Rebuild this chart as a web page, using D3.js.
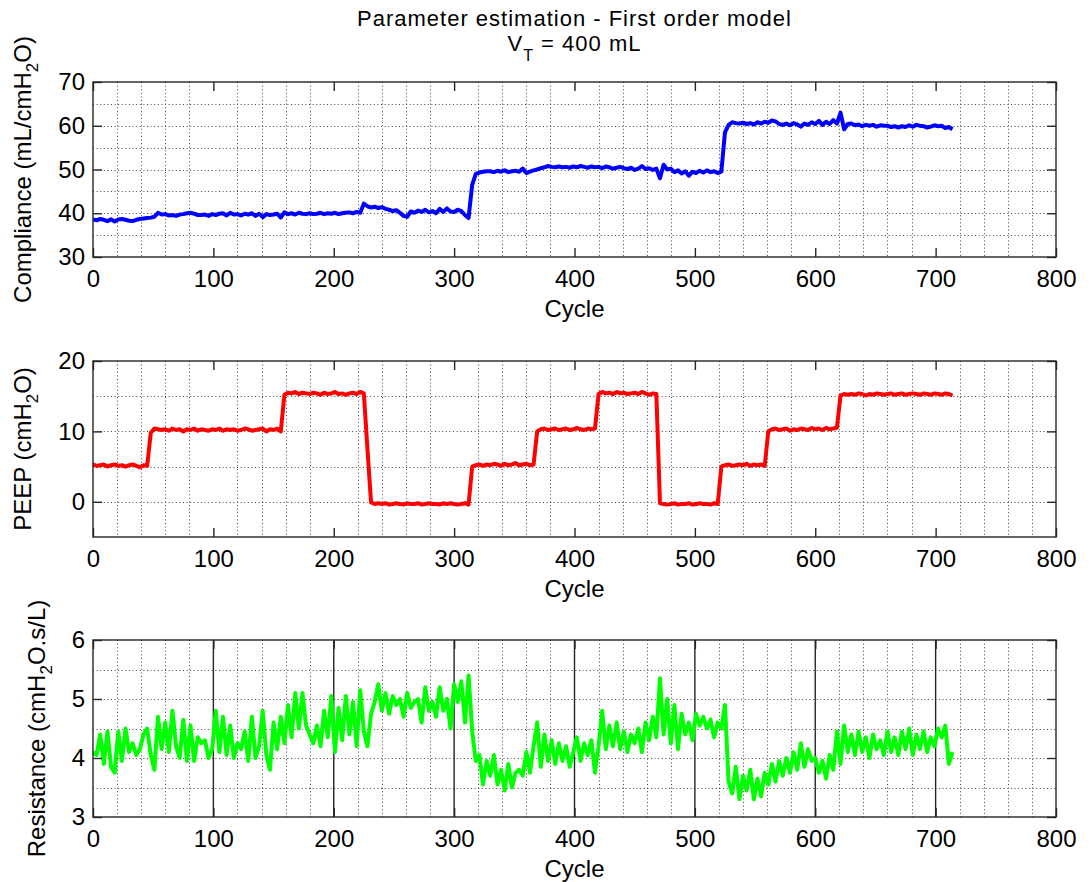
<!DOCTYPE html>
<html>
<head>
<meta charset="utf-8">
<script src="https://d3js.org/d3.v7.min.js"></script>
<style>
    body { margin: 0; background: #fff; }
    svg text { font-family: "Liberation Sans", Arial, sans-serif; fill: #000; }
</style>
</head>
<body>
<div class="container"></div>
<script>
// one value every 3 cycles
const sampleStep = 3;

const complianceValues = [
    38.6, 38.4, 38.7, 38.5, 38.2, 38.6, 38.1, 38.6, 38.7, 38.5,
    38.3, 38.2, 38.5, 38.7, 38.8, 38.9, 39.0, 39.2, 40.1, 39.7,
    39.8, 39.5, 39.6, 39.4, 39.7, 39.8, 40.0, 40.1, 39.9, 39.6,
    39.6, 39.7, 39.4, 39.8, 39.6, 39.9, 40.0, 39.5, 40.1, 39.7,
    39.8, 39.5, 39.9, 39.7, 40.0, 39.4, 39.9, 39.1, 39.8, 39.6,
    39.7, 39.9, 39.0, 40.2, 39.8, 40.0, 39.7, 40.1, 39.9, 39.8,
    40.0, 39.8, 39.9, 40.1, 39.8, 40.0, 39.9, 40.1, 39.8, 40.0,
    40.1, 40.2, 40.0, 40.3, 40.1, 42.2, 41.6, 41.3, 41.5, 41.2,
    41.4, 41.0, 40.8, 40.5, 40.7, 40.1, 39.4, 39.2, 40.4, 40.1,
    40.6, 40.3, 40.8, 40.2, 40.5, 40.0, 41.0, 40.3, 41.1, 40.4,
    40.3, 40.8, 40.5, 39.6, 38.9, 46.5, 49.0, 49.3, 49.5, 49.6,
    49.6, 49.4, 49.7, 49.5, 49.8, 49.4, 49.6, 49.7, 49.5, 50.2,
    49.2, 49.5, 49.8, 50.0, 50.3, 50.5, 50.8, 50.6, 50.5, 50.7,
    50.5, 50.6, 50.4, 50.7, 50.5, 50.8, 50.6, 50.4, 50.7, 50.5,
    50.6, 50.3, 50.7, 50.5, 50.2, 50.4, 50.6, 50.3, 50.1, 50.4,
    49.9, 50.2, 50.8, 50.1, 50.3, 49.9, 50.2, 48.0, 51.1, 50.0,
    50.2, 49.4, 49.8, 49.1, 49.6, 48.6, 49.5, 49.2, 49.7, 49.3,
    49.8, 49.4, 49.6, 49.2, 49.5, 58.5, 60.2, 60.8, 60.6, 60.5,
    60.7, 60.4, 60.6, 60.3, 60.8, 60.5, 60.9, 60.7, 61.2, 61.0,
    60.4, 60.2, 60.5, 60.1, 60.6, 60.3, 59.8, 60.5, 60.2, 60.8,
    60.4, 61.1, 60.2, 60.9, 60.4, 61.3, 60.5, 63.0, 59.2, 60.4,
    60.5, 60.1, 60.3, 59.9, 60.2, 60.0, 60.2, 59.8, 60.1, 60.0,
    60.0, 59.7, 59.9, 59.6, 59.9, 59.7, 60.1, 59.8, 60.2, 60.0,
    59.9, 59.6, 59.8, 60.1, 59.9, 60.0, 59.5, 59.7, 59.2
];

const peepValues = [
    5.3, 5.1, 5.2, 5.3, 5.0, 5.2, 5.3, 5.1, 5.2, 5.0,
    5.2, 5.3, 5.1, 4.9, 5.2, 5.1, 9.8, 10.4, 10.3, 10.2,
    10.3, 10.1, 10.4, 10.2, 10.3, 10.0, 10.3, 10.2, 10.4, 10.1,
    10.3, 10.2, 10.1, 10.3, 10.2, 10.4, 10.1, 10.3, 10.2, 10.3,
    10.1, 10.2, 10.4, 10.3, 10.1, 10.2, 10.3, 10.4, 10.0, 10.3,
    10.2, 10.4, 10.0, 15.2, 15.5, 15.4, 15.6, 15.3, 15.5, 15.4,
    15.3, 15.5, 15.4, 15.2, 15.5, 15.3, 15.4, 15.6, 15.3, 15.4,
    15.2, 15.4, 15.5, 15.3, 15.6, 15.4, 7.5, -0.1, -0.3, -0.2,
    -0.3, -0.2, -0.4, -0.3, -0.2, -0.3, -0.4, -0.2, -0.3, -0.3,
    -0.2, -0.4, -0.3, -0.2, -0.3, -0.3, -0.4, -0.2, -0.3, -0.2,
    -0.3, -0.4, -0.3, -0.2, -0.4, 5.0, 5.2, 5.3, 5.1, 5.3,
    5.2, 5.4, 5.3, 5.1, 5.4, 5.2, 5.3, 5.5, 5.2, 5.3,
    5.4, 5.2, 5.3, 10.0, 10.3, 10.4, 10.2, 10.3, 10.4, 10.2,
    10.3, 10.4, 10.2, 10.3, 10.5, 10.3, 10.2, 10.4, 10.3, 10.4,
    15.3, 15.6, 15.4, 15.5, 15.3, 15.6, 15.4, 15.5, 15.3, 15.4,
    15.5, 15.3, 15.6, 15.4, 15.2, 15.4, 15.3, -0.2, -0.3, -0.4,
    -0.3, -0.2, -0.4, -0.3, -0.3, -0.2, -0.4, -0.3, -0.2, -0.3,
    -0.3, -0.4, -0.2, -0.3, 5.0, 5.2, 5.3, 5.1, 5.2, 5.3,
    5.2, 5.4, 5.1, 5.3, 5.2, 5.3, 5.1, 10.0, 10.3, 10.4,
    10.2, 10.3, 10.4, 10.1, 10.3, 10.2, 10.4, 10.3, 10.2, 10.5,
    10.3, 10.4, 10.2, 10.5, 10.3, 10.4, 10.5, 15.1, 15.3, 15.2,
    15.3, 15.2, 15.4, 15.3, 15.1, 15.3, 15.2, 15.4, 15.3, 15.2,
    15.3, 15.4, 15.2, 15.3, 15.4, 15.2, 15.3, 15.4, 15.3, 15.2,
    15.4, 15.3, 15.2, 15.4, 15.3, 15.2, 15.4, 15.3, 15.1
];

const resistanceValues = [
    4.10, 4.05, 4.40, 3.90, 4.45, 3.85, 3.75, 4.45, 3.95, 4.50,
    4.10, 4.25, 4.05, 4.15, 4.40, 4.50, 4.05, 3.80, 4.70, 4.15,
    4.60, 4.10, 4.80, 4.20, 4.00, 4.65, 3.95, 4.55, 3.95, 4.35,
    4.25, 4.30, 4.00, 4.15, 4.80, 4.10, 4.70, 4.05, 4.55, 4.00,
    4.25, 4.15, 4.45, 3.95, 4.70, 4.00, 4.20, 4.80, 4.05, 3.80,
    4.60, 4.15, 4.70, 4.25, 4.90, 4.35, 5.10, 4.50, 5.10, 4.55,
    4.40, 4.25, 4.55, 4.20, 4.80, 4.35, 5.05, 4.10, 4.85, 4.30,
    5.05, 4.40, 4.95, 4.20, 5.15, 4.45, 4.20, 4.75, 4.95, 5.25,
    4.80, 5.10, 4.75, 5.05, 4.90, 5.00, 4.70, 5.10, 4.85, 4.95,
    5.00, 4.60, 5.20, 4.80, 4.95, 4.70, 5.20, 4.80, 5.00, 4.50,
    5.25, 4.95, 5.30, 4.60, 5.40, 4.45, 3.95, 4.05, 3.55, 3.95,
    3.70, 4.05, 3.55, 3.80, 3.45, 3.90, 3.50, 3.75, 3.80, 3.70,
    4.10, 3.75, 4.20, 4.60, 3.85, 4.40, 3.95, 4.30, 3.90, 4.25,
    3.95, 4.20, 3.85, 4.10, 4.35, 3.95, 4.25, 4.05, 4.30, 3.75,
    4.20, 4.80, 4.15, 4.55, 4.20, 4.60, 4.15, 4.45, 4.10, 4.40,
    4.25, 4.50, 4.10, 4.60, 4.30, 4.70, 4.35, 5.35, 4.40, 5.00,
    4.25, 4.90, 4.15, 4.75, 4.40, 4.60, 4.30, 4.75, 4.55, 4.70,
    4.50, 4.65, 4.35, 4.60, 4.50, 4.90, 3.60, 3.40, 3.85, 3.30,
    3.70, 3.45, 3.80, 3.30, 3.65, 3.35, 3.75, 3.55, 3.90, 3.60,
    3.95, 3.70, 4.00, 3.75, 4.10, 3.80, 4.25, 3.85, 4.15, 3.95,
    4.00, 3.75, 3.95, 3.65, 4.05, 3.80, 4.45, 3.90, 4.55, 4.10,
    4.40, 4.05, 4.45, 4.10, 4.35, 4.00, 4.40, 4.15, 4.30, 4.05,
    4.45, 4.10, 4.35, 4.05, 4.45, 4.15, 4.50, 4.05, 4.40, 4.15,
    4.45, 4.10, 4.35, 4.20, 4.50, 4.35, 4.55, 3.90, 4.10
];

// tick labels of the shared cycle axis and of each panel
const cycleTicks = [0, 100, 200, 300, 400, 500, 600, 700, 800];
const complianceTicks = [30, 40, 50, 60, 70];
const peepTicks = [0, 10, 20];
const resistanceTicks = [3, 4, 5, 6];

const w = 1091;
const h = 882;
const svg = d3.select(".container")
    .append("svg")
    .attr("width", w)
    .attr("height", h);

const left = 93;
const right = 1056;
const axisColor = "#262626";
const fontSize = 24;

const xScale = d3.scaleLinear().domain([0, 800]).range([left, right]);

// minor x grid every 20 cycles, skipping the hundreds
const xMinor = d3.range(20, 800, 20).filter((c) => c % 100 !== 0);

// title, with the subscript T (a bit smaller so the two lines do not collide)
svg.append("text")
    .attr("x", (left + right) / 2)
    .attr("y", 26)
    .attr("text-anchor", "middle")
    .attr("font-size", 22)
    .attr("letter-spacing", 1)
    .text("Parameter estimation - First order model");

const sub = svg.append("text")
    .attr("x", (left + right) / 2)
    .attr("y", 51)
    .attr("text-anchor", "middle")
    .attr("font-size", 22)
    .attr("letter-spacing", 1);
sub.append("tspan").text("V");
sub.append("tspan").attr("dy", 10).attr("font-size", 16).text("T");
sub.append("tspan").attr("dy", -10).text(" = 400 mL");

// label parts: [text, isSubscript]
const panels = [
    {
        top: 82, bottom: 257, domain: [30, 70], ticks: complianceTicks, minorStep: 5,
        values: complianceValues, color: "#0000ff", solidX: false, labelX: 31,
        label: [["Compliance (mL/cmH", false], ["2", true], ["O)", false]]
    },
    {
        top: 361, bottom: 537, domain: [-5, 20], ticks: peepTicks, minorStep: 5,
        values: peepValues, color: "#ff0000", solidX: false, labelX: 31,
        label: [["PEEP (cmH", false], ["2", true], ["O)", false]]
    },
    {
        top: 640, bottom: 817, domain: [3, 6], ticks: resistanceTicks, minorStep: 0.5,
        values: resistanceValues, color: "#00ff00", solidX: true, labelX: 45,
        label: [["Resistance (cmH", false], ["2", true], ["O.s/L)", false]]
    }
];

panels.forEach((p) => drawPanel(p));

function drawPanel(p) {
    const yScale = d3.scaleLinear().domain(p.domain).range([p.bottom, p.top]);
    const g = svg.append("g");

    // dotted horizontal grid at every minor step inside the box
    const yGrid = d3.range(p.domain[0] + p.minorStep, p.domain[1] - 1e-9, p.minorStep);
    g.selectAll(".hgrid")
        .data(yGrid)
        .enter()
        .append("line")
        .attr("x1", left)
        .attr("x2", right)
        .attr("y1", (d) => Math.round(yScale(d)) + 0.5)
        .attr("y2", (d) => Math.round(yScale(d)) + 0.5)
        .attr("stroke", "#444")
        .attr("stroke-width", 1)
        .attr("stroke-dasharray", "1,2.6");

    // dotted vertical minor grid
    g.selectAll(".vgrid")
        .data(xMinor)
        .enter()
        .append("line")
        .attr("x1", (d) => Math.round(xScale(d)) + 0.5)
        .attr("x2", (d) => Math.round(xScale(d)) + 0.5)
        .attr("y1", p.top)
        .attr("y2", p.bottom)
        .attr("stroke", "#444")
        .attr("stroke-width", 1)
        .attr("stroke-dasharray", "1,2.6");

    // the resistance panel has solid major x grid lines
    if (p.solidX) {
        g.selectAll(".vmajor")
            .data(cycleTicks.slice(1, -1))
            .enter()
            .append("line")
            .attr("x1", (d) => xScale(d))
            .attr("x2", (d) => xScale(d))
            .attr("y1", p.top)
            .attr("y2", p.bottom)
            .attr("stroke", axisColor)
            .attr("stroke-width", 1.4);
    }

    // data line
    const line = d3.line()
        .x((d, i) => xScale(i * sampleStep))
        .y((d) => yScale(d));

    g.append("path")
        .datum(p.values)
        .attr("d", line)
        .attr("fill", "none")
        .attr("stroke", p.color)
        .attr("stroke-width", 4)
        .attr("stroke-linejoin", "round");

    // axes with ticks pointing inwards, on all four sides
    const styleAxis = (sel) => {
        sel.select(".domain").remove();
        sel.selectAll("line").attr("stroke", axisColor).attr("stroke-width", 1.4);
        sel.attr("font-size", fontSize).attr("font-family", "Liberation Sans, Arial, sans-serif");
        sel.selectAll("text").attr("fill", "#000");
    };

    g.append("g")
        .attr("transform", `translate(0, ${p.bottom})`)
        .call(d3.axisBottom(xScale).tickValues(cycleTicks).tickSizeInner(-9).tickSizeOuter(0).tickPadding(13))
        .call(styleAxis);

    g.append("g")
        .attr("transform", `translate(0, ${p.top})`)
        .call(d3.axisTop(xScale).tickValues(cycleTicks).tickSizeInner(-9).tickSizeOuter(0).tickFormat(""))
        .call(styleAxis);

    g.append("g")
        .attr("transform", `translate(${left}, 0)`)
        .call(d3.axisLeft(yScale).tickValues(p.ticks).tickSizeInner(-9).tickSizeOuter(0).tickPadding(8).tickFormat(d3.format("d")))
        .call(styleAxis);

    g.append("g")
        .attr("transform", `translate(${right}, 0)`)
        .call(d3.axisRight(yScale).tickValues(p.ticks).tickSizeInner(-9).tickSizeOuter(0).tickFormat(""))
        .call(styleAxis);

    // box
    g.append("rect")
        .attr("x", left)
        .attr("y", p.top)
        .attr("width", right - left)
        .attr("height", p.bottom - p.top)
        .attr("fill", "none")
        .attr("stroke", axisColor)
        .attr("stroke-width", 1.4);

    // x label
    g.append("text")
        .attr("x", (left + right) / 2)
        .attr("y", p.bottom + 60)
        .attr("text-anchor", "middle")
        .attr("font-size", fontSize)
        .text("Cycle");

    // y label, rotated, with a subscript 2
    const yl = g.append("text")
        .attr("transform", `translate(${p.labelX}, ${(p.top + p.bottom) / 2}) rotate(-90)`)
        .attr("text-anchor", "middle")
        .attr("font-size", fontSize);
    p.label.forEach(([t, isSub], i) => {
        yl.append("tspan")
            .attr("dy", isSub ? 7 : (i === 0 ? 0 : -7))
            .attr("font-size", isSub ? 17 : fontSize)
            .text(t);
    });
}
</script>
</body>
</html>
